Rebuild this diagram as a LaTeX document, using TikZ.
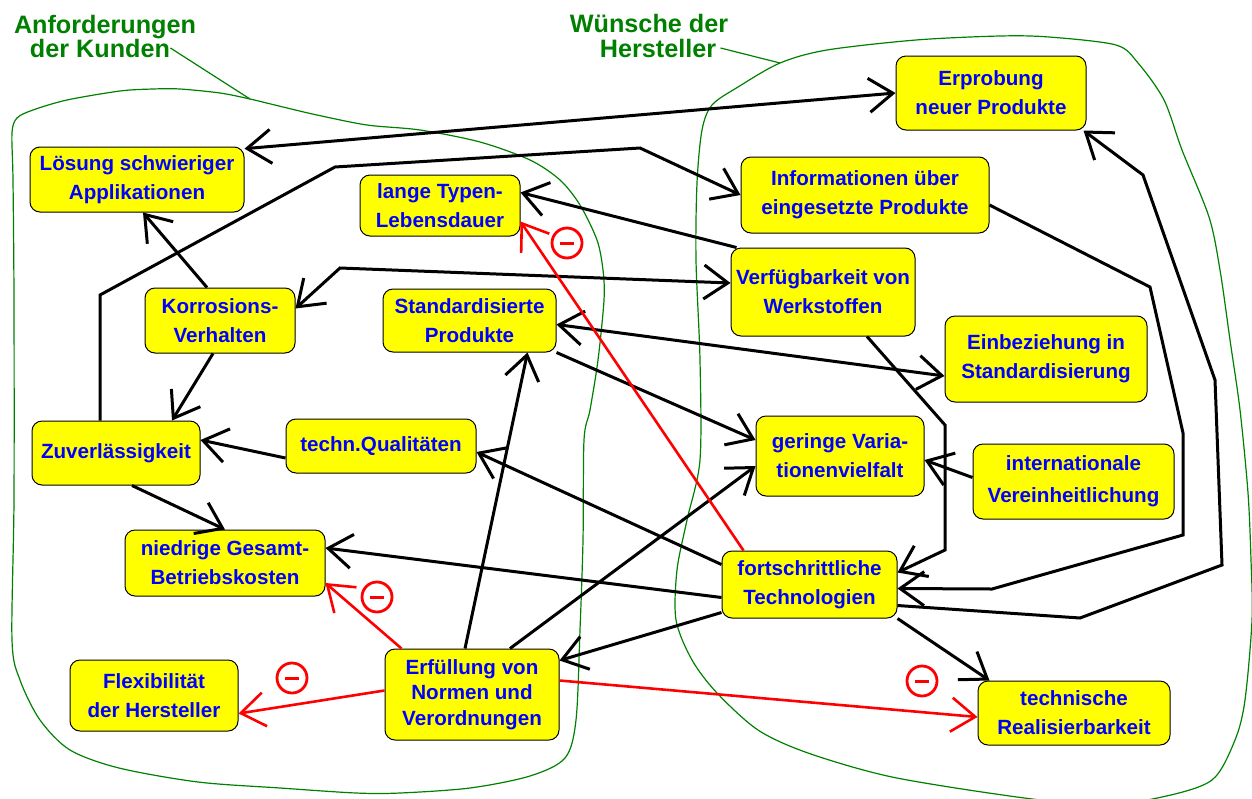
\documentclass[tikz,border=0pt]{standalone}
\usepackage{fontspec}
\setmainfont{Liberation Sans}
\usetikzlibrary{arrows.meta}
\definecolor{boxyellow}{RGB}{255,255,0}
\definecolor{textblue}{RGB}{0,0,255}
\definecolor{grpgreen}{RGB}{0,128,0}
\definecolor{negred}{RGB}{255,0,0}
\newcommand{\negbar}{\rule{7pt}{1.5pt}}

\begin{document}
\begin{tikzpicture}[
  x=0.5pt, y=-0.5pt,
  >={Straight Barb[length=12pt, width=17pt]},
  kbox/.style={draw=black, line width=0.5pt, fill=boxyellow, rounded corners=5pt,
               text=textblue, align=center, inner sep=2pt,
               font=\fontsize{10.3}{14.5}\selectfont\bfseries},
  grplabel/.style={text=grpgreen, anchor=base, inner sep=0pt,
                   font=\fontsize{12.6}{12}\selectfont\bfseries},
  grp/.style={draw=grpgreen, line width=0.6pt},
  arr/.style={->, line width=1.5pt},
  biarr/.style={<->, line width=1.5pt},
  negarr/.style={->, draw=negred, line width=1.3pt},
  minusc/.style={circle, draw=negred, text=negred, line width=1.4pt,
                 minimum size=15pt, inner sep=0pt}
]
\useasboundingbox (0,0) rectangle (1252,798);

%% Group outlines
\draw[grp] plot[smooth cycle, tension=0.5] coordinates {
  (12,133) (17,118) (33,110) (67,100) (120,91) (153,89) (180,89) (220,93)
  (250,99) (283,107) (317,115) (367,125) (420,130) (480,142) (530,160)
  (560,180) (580,205) (597,240) (603,270) (604,300) (598,360) (590,410)
  (584,440) (583,540) (580,630) (576,720) (565,758) (530,776) (470,788)
  (400,793) (356,793) (280,788) (198,782) (119,768) (70,750) (40,720)
  (20,680) (12,640) (14,500) (14,300) (13,180)};
\draw[grp] plot[smooth cycle, tension=0.5] coordinates {
  (702,130) (712,105) (738,87) (780,63) (827,50) (916,40) (1000,36)
  (1049,37) (1116,45) (1138,63) (1164,100) (1182,150) (1209,217)
  (1220,270) (1230,340) (1240,410) (1248,493) (1251,560) (1252,620)
  (1245,700) (1235,740) (1212,780) (1162,797) (1100,805) (1017,797)
  (892,777) (808,753) (758,730) (717,693) (692,660) (676,620) (677,570)
  (687,520) (700,460) (700,360) (696,260) (697,183)};

%% Group labels
\node[grplabel] (kunden1) at (105,33) {Anforderungen};
\node[grplabel] (kunden2) at (100,57) {der Kunden};
\node[grplabel] (wuensche1) at (649,32) {Wünsche der};
\node[grplabel] (wuensche2) at (658,57) {Hersteller};
\coordinate (kgrp) at (250,99);
\coordinate (hgrp) at (780,63);
\draw[grp] (kunden2.east) -- (kgrp);
\draw[grp] ([xshift=2pt]wuensche2.east) -- (hgrp);

%% Customer side
\node[kbox, minimum width=107pt, minimum height=32.5pt] (loesung) at (137,179.5) {Lösung schwieriger\\Applikationen};
\node[kbox, minimum width=80pt,  minimum height=30.5pt] (lange)   at (440,205.5) {lange Typen-\\Lebensdauer};
\node[kbox, minimum width=75pt,  minimum height=32.5pt] (korr)    at (220,320.5) {Korrosions-\\Verhalten};
\node[kbox, minimum width=86.5pt,minimum height=31.5pt] (stand)   at (469.5,320.5) {Standardisierte\\Produkte};
\node[kbox, minimum width=84pt,  minimum height=32pt]   (zuver)   at (116,453) {Zuverlässigkeit};
\node[kbox, minimum width=95pt,  minimum height=27pt]   (techn)   at (381,446) {techn.Qualitäten};
\node[kbox, minimum width=100pt, minimum height=33pt]   (niedrig) at (225,563) {niedrige Gesamt-\\Betriebskosten};
\node[kbox, minimum width=84pt,  minimum height=35.5pt] (flex)    at (154,695.5) {Flexibilität\\der Hersteller};
\node[kbox, minimum width=87pt,  minimum height=45.5pt,
      font=\fontsize{10.3}{12.8}\selectfont\bfseries] (erfuell) at (472,694.5) {Erfüllung von\\Normen und\\Verordnungen};

%% Manufacturer side
\node[kbox, minimum width=95pt,  minimum height=37pt]   (erprob)   at (991,93) {Erprobung\\neuer Produkte};
\node[kbox, minimum width=124pt, minimum height=38pt]   (info)     at (865,195) {Informationen über\\eingesetzte Produkte};
\node[kbox, minimum width=92pt,  minimum height=44pt]   (verf)     at (823,292) {Verfügbarkeit von\\Werkstoffen};
\node[kbox, minimum width=101pt, minimum height=43pt]   (einbez)   at (1046,359) {Einbeziehung in\\Standardisierung};
\node[kbox, minimum width=84pt,  minimum height=40pt]   (gering)   at (840,456) {geringe Varia-\\tionenvielfalt};
\node[kbox, minimum width=100.5pt,minimum height=37.5pt,
      font=\fontsize{10.3}{16}\selectfont\bfseries] (intern) at (1073.5,481.5) {internationale\\Vereinheitlichung};
\node[kbox, minimum width=87.5pt,minimum height=33.5pt] (fort)     at (809.5,584.5) {fortschrittliche\\Technologien};
\node[kbox, minimum width=96pt,  minimum height=32pt]   (techreal) at (1074,713) {technische\\Realisierbarkeit};

%% Connectors
\draw[biarr] (erprob.west) -- (loesung.16);
\draw[arr] ([xshift=-8pt]zuver.north) -- (100,295) -- (335,167) -- (640,148) -- (info.west);
\draw[arr] ([xshift=-6.5pt]korr.north) -- ([xshift=3pt]loesung.south);
\draw[biarr] ([yshift=4.5pt]verf.west) -- (340,268) -- ([yshift=6pt]korr.east);
\draw[arr] ([xshift=-3.5pt]korr.south) -- ([xshift=28pt]zuver.north);
\draw[arr] ([xshift=3pt]verf.north west) -- ([yshift=6.5pt]lange.east);
\draw[biarr] ([yshift=-2pt]stand.east) -- ([yshift=-8.5pt]einbez.west);
\draw[arr] (stand.south east) -- ([yshift=8pt]gering.west);
\draw[arr] ([xshift=-3.5pt]erfuell.north) -- ([xshift=29pt]stand.south);
\draw[arr] ([yshift=-6pt]techn.west) -- ([yshift=6.5pt]zuver.east);
\draw[arr] ([yshift=10pt]fort.west) -- ([yshift=-3pt]techn.east);
\draw[arr] ([xshift=8pt]zuver.south) -- (niedrig.north);
\draw[arr] ([yshift=-6.5pt]fort.west) -- ([yshift=7.5pt]niedrig.east);
\draw[arr] ([xshift=19pt]erfuell.north) -- ([yshift=-5pt]gering.west);
\draw[arr] ([yshift=-14pt]fort.west) -- ([yshift=17pt]erfuell.east);
\draw[arr] (fort.south east) -- ([xshift=6pt]techreal.north west);
\draw[arr] ([yshift=2pt]intern.west) -- ([yshift=-2pt]gering.east);
\draw[arr] ([xshift=22pt]verf.south) -- (945,425) -- (945,550) -- ([yshift=6pt]fort.east);
\draw[arr] ([yshift=-5pt]info.east) -- (1150,287) -- (1183,433) -- (1183,535)
  -- (992,589) -- ([yshift=-2pt]fort.east);
\draw[arr] ([yshift=-10.5pt]fort.east) -- (1080,618) -- (1222,565) -- (1215,380)
  -- (1143,175) -- ([xshift=-1.5pt]erprob.south east);

%% Negative influences
\draw[negarr] ([xshift=-33pt]fort.north) -- ([yshift=-8pt]lange.east);
\draw[negarr] ([xshift=8.5pt]erfuell.north west) -- ([yshift=-10pt]niedrig.east);
\draw[negarr] ([yshift=2pt]erfuell.west) -- ([yshift=-9pt]flex.east);
\draw[negarr] ([yshift=7pt]erfuell.east) -- ([yshift=-2pt]techreal.west);
\node[minusc] (neg1) at (567,243) {\negbar};
\node[minusc] (neg2) at (377,597) {\negbar};
\node[minusc] (neg3) at (292,678) {\negbar};
\node[minusc] (neg4) at (922,681) {\negbar};

\end{tikzpicture}
\end{document}
